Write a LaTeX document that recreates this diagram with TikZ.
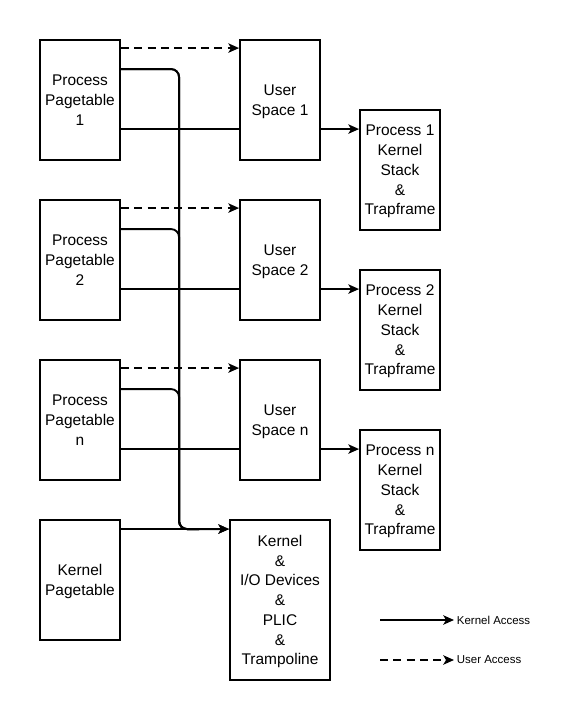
\documentclass[tikz,border=0pt]{standalone}
\usepackage{fontspec}
\setmainfont{Liberation Sans}
\usetikzlibrary{arrows.meta,calc,backgrounds}
\begin{document}
\begin{tikzpicture}[x=0.75pt,y=-0.75pt,
  box/.style={draw,line width=1.4pt,fill=white,minimum width=60pt,minimum height=90pt,inner sep=0pt,align=center,text depth=0pt,font=\fontsize{11.6}{14.8}\selectfont},
  tip/.style={-{Stealth[length=8pt,width=7pt,inset=2pt]}},
  kline/.style={line width=1.4pt,tip},
  uline/.style={line width=1.4pt,tip,dash pattern=on 6pt off 4pt},
  legend/.style={font=\fontsize{8.6}{10}\selectfont,inner sep=2pt,anchor=west}]
\useasboundingbox (0,0) rectangle (561,701);
\node[box] (pp1) at (80,100) {Process\\Pagetable\\1};
\node[box] (us1) at (280,100) {User\\Space 1};
\node[box] (ks1) at (400,170) {Process 1\\Kernel\\Stack\\\&\\Trapframe};
\node[box] (pp2) at (80,260) {Process\\Pagetable\\2};
\node[box] (us2) at (280,260) {User\\Space 2};
\node[box] (ks2) at (400,330) {Process 2\\Kernel\\Stack\\\&\\Trapframe};
\node[box] (ppn) at (80,420) {Process\\Pagetable\\n};
\node[box] (usn) at (280,420) {User\\Space n};
\node[box] (ksn) at (400,490) {Process n\\Kernel\\Stack\\\&\\Trapframe};
\node[box] (kpt) at (80,580) {Kernel\\Pagetable};
\node[box,minimum width=75pt,minimum height=120pt] (kern) at (280,600) {Kernel\\\&\\I/O Devices\\\&\\PLIC\\\&\\Trampoline};
\coordinate (bus) at ($(kern.north west)+(-50,10)$);
\coordinate (kin) at ($(kern.north west)+(0,10)$);
\begin{scope}[on background layer]
  \foreach \p/\u/\k in {pp1/us1/ks1,pp2/us2/ks2,ppn/usn/ksn}{
    \draw[uline] ($(\p.north east)+(0,9)$) -- ($(\u.north west)+(0,9)$);
    \draw[kline] ($(\p.north east)+(0,90)$) -- ($(\k.north west)+(0,20)$);
    \draw[line width=1.4pt,rounded corners=6pt] ($(\p.north east)+(0,30)$) -| (bus) -- ($(bus)+(20,0)$);
  }
  \draw[kline] (kpt.east |- kin) -- (kin);
  \draw[kline,rounded corners=6pt] ($(pp1.north east)+(0,30)$) -| (bus) -- (kin);
\end{scope}
\coordinate (ka) at (380,620);
\node[legend] (kl) at (454,620) {Kernel Access};
\draw[kline] (ka) -- (kl.west);
\coordinate (ua) at (380,660);
\node[legend] (ul) at (454,660) {User Access};
\draw[uline] (ua) -- (ul.west);
\end{tikzpicture}
\end{document}
